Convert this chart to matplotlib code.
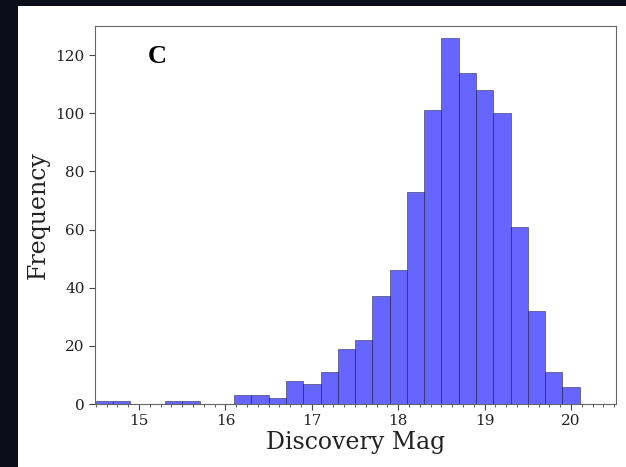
import matplotlib.pyplot as plt
import matplotlib.patches as patches
from matplotlib.ticker import MultipleLocator
import numpy as np

# histogram: bin edges 14.5 .. 20.1, width 0.2
bin_start = 14.5
bin_width = 0.2
counts = [1, 1, 0, 0, 1, 1, 0, 0, 3, 3, 2, 8, 7, 11, 19, 22,
          37, 46, 73, 101, 126, 114, 108, 100, 61, 32, 11, 6]
edges = bin_start + bin_width * np.arange(len(counts) + 1)
centers = (edges[:-1] + edges[1:]) / 2

plt.rcParams['font.family'] = 'DejaVu Serif'

fig = plt.figure(figsize=(6.26, 4.67), dpi=100)
fig.patch.set_facecolor('#0b0d1a')
# white panel of the slide
fig.patches.append(patches.Rectangle((18 / 626, 0), 1, (467 - 6) / 467,
                                     transform=fig.transFigure,
                                     facecolor='white', edgecolor='none', zorder=-10))

ax = fig.add_axes([95 / 626, (467 - 404) / 467, (616 - 95) / 626, (404 - 26) / 467])
ax.set_zorder(1)
ax.hist(centers, bins=edges, weights=counts, color='blue', alpha=0.6,
        edgecolor='#222244', linewidth=0.6)

ax.set_xlim(14.49, 20.52)
ax.set_ylim(0, 130)
ax.xaxis.set_major_locator(MultipleLocator(1))
ax.xaxis.set_minor_locator(MultipleLocator(0.125))
ax.yaxis.set_major_locator(MultipleLocator(20))

for s in ax.spines.values():
    s.set_color('#666666')
ax.tick_params(axis='both', which='major', labelsize=11, length=4, color='#444444',
               labelcolor='#222222')
ax.tick_params(axis='x', which='minor', length=2, color='#444444')

ax.set_xlabel('Discovery Mag', fontsize=17, color='#222222', labelpad=2)
ax.set_ylabel('Frequency', fontsize=17, color='#222222', labelpad=4)

ax.text(0.119, 0.918, 'C', transform=ax.transAxes, fontsize=19, fontweight='bold',
        family='Liberation Serif', va='center', ha='center')

fig.savefig('out.png', dpi=100, facecolor=fig.get_facecolor())
